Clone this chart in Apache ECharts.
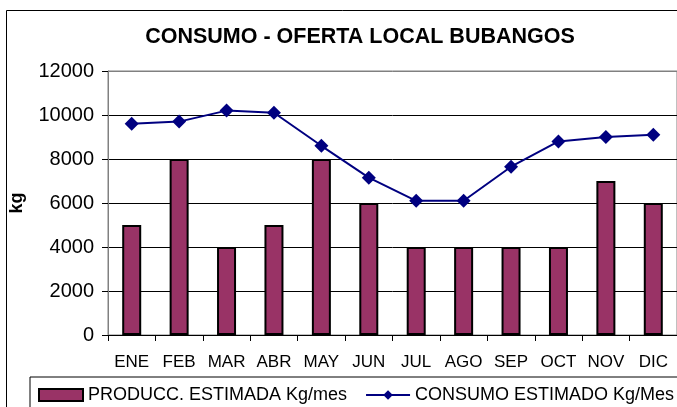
<!DOCTYPE html>
<html>
<head>
<meta charset="utf-8">
<script src="https://cdn.jsdelivr.net/npm/echarts@6/dist/echarts.min.js"></script>
<style>
  html, body { margin: 0; padding: 0; background: #fff; }
  #chart { width: 677px; height: 407px; }
</style>
</head>
<body>
<div id="chart"></div>
<script>
var meses = ['ENE', 'FEB', 'MAR', 'ABR', 'MAY', 'JUN', 'JUL', 'AGO', 'SEP', 'OCT', 'NOV', 'DIC'];
var produccion = [5000, 8000, 4000, 5000, 8000, 6000, 4000, 4000, 4000, 4000, 7000, 6000];
var consumo = [9600, 9700, 10200, 10100, 8600, 7150, 6100, 6100, 7650, 8800, 9000, 9100];
var ejeY = [0, 2000, 4000, 6000, 8000, 10000, 12000];

var myChart = echarts.init(document.getElementById('chart'));
var fuente = 'Liberation Sans, Arial, sans-serif';
var option = {
    animation: false,
    textStyle: { fontFamily: fuente },
    graphic: [{
        type: 'rect',
        shape: { x: 6.5, y: 10.5, width: 700, height: 420 },
        style: { fill: 'none', stroke: '#000', lineWidth: 1 },
        z: -1
    }],
    title: {
        text: 'CONSUMO - OFERTA LOCAL BUBANGOS',
        left: 355,
        top: 21,
        textAlign: 'center',
        textStyle: { fontSize: 21.5, fontWeight: 'bold', color: '#000', fontFamily: fuente }
    },
    grid: {
        left: 108,
        right: -12,
        top: 71,
        bottom: 72,
        show: true,
        borderColor: '#808080',
        borderWidth: 1
    },
    legend: {
        left: 30,
        top: 377,
        width: 800,
        padding: [9, 8, 9, 8],
        borderColor: '#000',
        borderWidth: 1,
        itemWidth: 44,
        itemHeight: 12,
        itemGap: 18,
        textStyle: { fontSize: 18, color: '#000', fontFamily: fuente },
        data: [
            { name: 'PRODUCC. ESTIMADA Kg/mes', icon: 'rect' },
            { name: 'CONSUMO ESTIMADO Kg/Mes' }
        ]
    },
    xAxis: {
        type: 'category',
        data: meses,
        axisLine: { lineStyle: { color: '#000', width: 1 } },
        axisTick: { show: true, length: 6, lineStyle: { color: '#000' } },
        axisLabel: { fontSize: 17, color: '#000', margin: 19, interval: 0 },
        splitLine: { show: false }
    },
    yAxis: {
        type: 'value',
        name: 'kg',
        nameLocation: 'middle',
        nameRotate: 90,
        nameGap: 82,
        nameTextStyle: { fontSize: 18, fontWeight: 'bold', color: '#000' },
        min: ejeY[0],
        max: ejeY[ejeY.length - 1],
        interval: 2000,
        axisLine: { show: true, lineStyle: { color: '#808080', width: 1 } },
        axisTick: { show: true, length: 6, lineStyle: { color: '#000' } },
        axisLabel: {
            fontSize: 20,
            color: '#000',
            margin: 14,
            formatter: function (v) { return String(v); }
        },
        splitLine: {
            show: true,
            lineStyle: { color: ['#000', '#000', '#000', '#000', '#000', '#000', '#808080'], width: 1 }
        }
    },
    series: [
        {
            name: 'PRODUCC. ESTIMADA Kg/mes',
            type: 'bar',
            barWidth: 19,
            data: produccion,
            itemStyle: { color: '#993366', borderColor: '#000', borderWidth: 2 }
        },
        {
            name: 'CONSUMO ESTIMADO Kg/Mes',
            type: 'line',
            data: consumo,
            symbol: 'diamond',
            symbolSize: 14,
            lineStyle: { color: '#000080', width: 2 },
            itemStyle: { color: '#000080' }
        }
    ]
};
myChart.setOption(option);
</script>
</body>
</html>
